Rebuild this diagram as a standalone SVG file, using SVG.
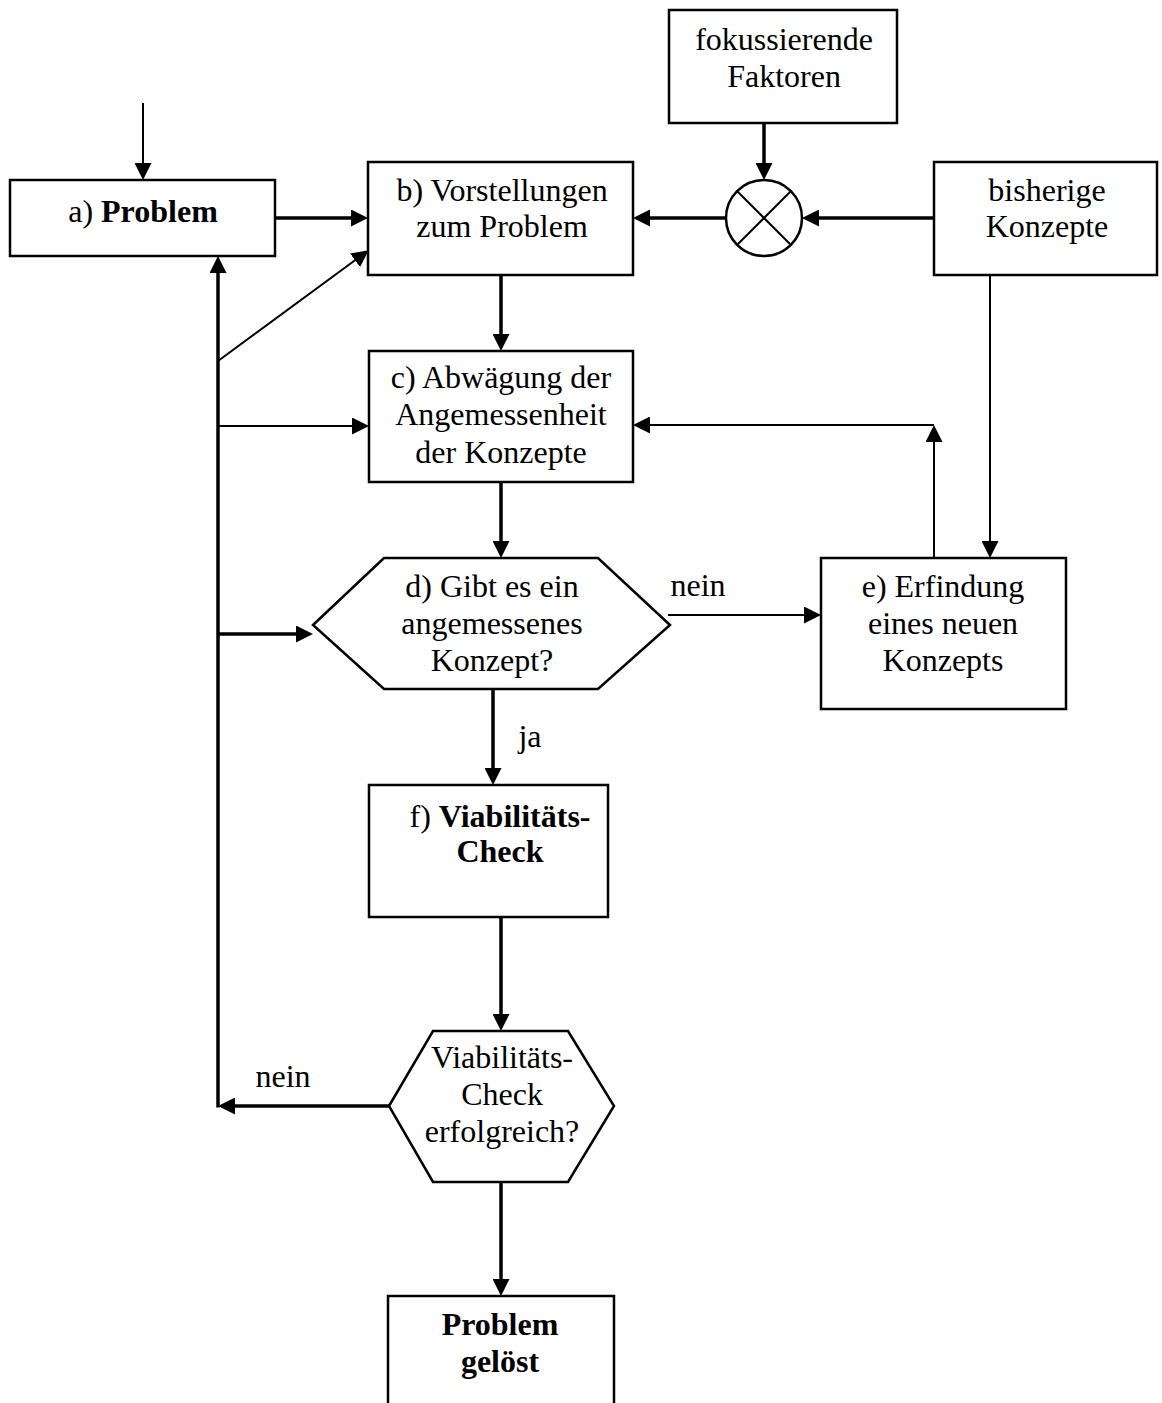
<svg xmlns="http://www.w3.org/2000/svg" width="1162" height="1403" viewBox="0 0 1162 1403">
<style>
  .box { fill: #fff; stroke: #000; stroke-width: 2.5; }
  .t { font-family: "Liberation Serif", "Times New Roman", serif; font-size: 32px; fill: #000; text-anchor: middle; }
  .b { font-weight: bold; }
  .thin { stroke: #000; stroke-width: 2; fill: none; }
  .thick { stroke: #000; stroke-width: 3.5; fill: none; }
</style>
<defs>
  <marker id="ah" markerUnits="userSpaceOnUse" markerWidth="17" markerHeight="17" refX="8" refY="8.5" orient="auto">
    <path d="M0,0 L17,8.5 L0,17 z" fill="#000"/>
  </marker>
</defs>
<rect width="1162" height="1403" fill="#fff"/>

<g id="connectors">
  <!-- input arrow to a -->
  <line class="thin" x1="143" y1="103" x2="143" y2="171" marker-end="url(#ah)"/>
  <!-- a -> b -->
  <line class="thick" x1="275" y1="218" x2="359" y2="218" marker-end="url(#ah)"/>
  <!-- fokussierende -> circle -->
  <line class="thick" x1="764" y1="123" x2="764" y2="171" marker-end="url(#ah)"/>
  <!-- bisherige -> circle -->
  <line class="thick" x1="934" y1="218" x2="811" y2="218" marker-end="url(#ah)"/>
  <!-- circle -> b -->
  <line class="thick" x1="726" y1="218" x2="642" y2="218" marker-end="url(#ah)"/>
  <!-- b -> c -->
  <line class="thick" x1="501" y1="275" x2="501" y2="342" marker-end="url(#ah)"/>
  <!-- c -> d -->
  <line class="thick" x1="501" y1="482" x2="501" y2="549" marker-end="url(#ah)"/>
  <!-- bisherige -> e -->
  <line class="thin" x1="990" y1="275" x2="990" y2="549" marker-end="url(#ah)"/>
  <!-- e -> up -->
  <line class="thin" x1="934" y1="558" x2="934" y2="434" marker-end="url(#ah)"/>
  <!-- corner -> c -->
  <line class="thin" x1="934" y1="425" x2="642" y2="425" marker-end="url(#ah)"/>
  <!-- d -> e (nein) -->
  <line class="thin" x1="668" y1="615" x2="812" y2="615" marker-end="url(#ah)"/>
  <!-- d -> f (ja) -->
  <line class="thick" x1="493" y1="689" x2="493" y2="776" marker-end="url(#ah)"/>
  <!-- f -> g -->
  <line class="thick" x1="501" y1="917" x2="501" y2="1022" marker-end="url(#ah)"/>
  <!-- g -> Problem gelöst -->
  <line class="thick" x1="501" y1="1182" x2="501" y2="1287" marker-end="url(#ah)"/>
  <!-- g -> left (nein) -->
  <line class="thick" x1="389" y1="1106" x2="227" y2="1106" marker-end="url(#ah)"/>
  <!-- left feedback line up to a -->
  <line class="thick" x1="218" y1="1107.5" x2="218" y2="265" marker-end="url(#ah)"/>
  <!-- diagonal to b -->
  <line class="thin" x1="218" y1="361" x2="361.5" y2="255.5" marker-end="url(#ah)"/>
  <!-- feedback -> c -->
  <line class="thin" x1="218" y1="426" x2="360" y2="426" marker-end="url(#ah)"/>
  <!-- feedback -> d -->
  <line class="thick" x1="218" y1="634" x2="304" y2="634" marker-end="url(#ah)"/>
</g>

<g id="node-a">
  <rect class="box" x="10" y="180" width="265" height="76"/>
  <text class="t" x="143" y="222">a) <tspan class="b">Problem</tspan></text>
</g>
<g id="node-b">
  <rect class="box" x="368" y="162" width="265" height="113"/>
  <text class="t" x="502" y="201">b) Vorstellungen</text>
  <text class="t" x="502" y="237">zum Problem</text>
</g>
<g id="node-fokus">
  <rect class="box" x="669" y="10" width="228" height="113"/>
  <text class="t" x="784" y="50">fokussierende</text>
  <text class="t" x="784" y="87">Faktoren</text>
</g>
<g id="node-circle">
  <circle cx="764" cy="218" r="38" fill="#fff" stroke="#000" stroke-width="2.5"/>
  <line x1="737" y1="191" x2="791" y2="245" stroke="#000" stroke-width="2"/>
  <line x1="791" y1="191" x2="737" y2="245" stroke="#000" stroke-width="2"/>
</g>
<g id="node-bisherige">
  <rect class="box" x="934" y="162" width="223" height="113"/>
  <text class="t" x="1047" y="201">bisherige</text>
  <text class="t" x="1047" y="237">Konzepte</text>
</g>
<g id="node-c">
  <rect class="box" x="369" y="351" width="264" height="131"/>
  <text class="t" x="501" y="388">c) Abwägung der</text>
  <text class="t" x="501" y="425">Angemessenheit</text>
  <text class="t" x="501" y="463">der Konzepte</text>
</g>
<g id="node-d">
  <polygon class="box" points="313,625 384,558 598,558 670,625 598,689 384,689"/>
  <text class="t" x="492" y="597">d) Gibt es ein</text>
  <text class="t" x="492" y="634">angemessenes</text>
  <text class="t" x="492" y="671">Konzept?</text>
</g>
<g id="node-e">
  <rect class="box" x="821" y="558" width="245" height="151"/>
  <text class="t" x="943" y="597">e) Erfindung</text>
  <text class="t" x="943" y="634">eines neuen</text>
  <text class="t" x="943" y="671">Konzepts</text>
</g>
<g id="node-f">
  <rect class="box" x="369" y="785" width="239" height="132"/>
  <text class="t" x="500" y="827">f) <tspan class="b">Viabilitäts-</tspan></text>
  <text class="t b" x="500" y="862">Check</text>
</g>
<g id="node-g">
  <polygon class="box" points="389,1106 433,1031 568,1031 614,1106 568,1182 433,1182"/>
  <text class="t" x="502" y="1068">Viabilitäts-</text>
  <text class="t" x="502" y="1105">Check</text>
  <text class="t" x="502" y="1142">erfolgreich?</text>
</g>
<g id="node-geloest">
  <rect class="box" x="388" y="1296" width="226" height="130"/>
  <text class="t b" x="500" y="1335">Problem</text>
  <text class="t b" x="500" y="1372">gelöst</text>
</g>

<g id="labels">
  <text class="t" x="698" y="596">nein</text>
  <text class="t" x="530" y="747">ja</text>
  <text class="t" x="283" y="1087">nein</text>
</g>
</svg>
